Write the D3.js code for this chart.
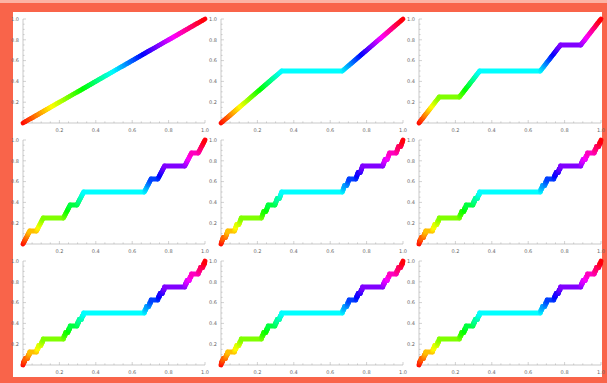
<!DOCTYPE html>
<html>
<head>
<meta charset="utf-8">
<script src="https://cdn.jsdelivr.net/npm/d3@7"></script>
<style>
  html, body { margin: 0; padding: 0; background: #fff; }
  svg { display: block; }
</style>
</head>
<body>
<div id="chart"></div>
<script>
// Staircase vertices, as [x, y] numerators
const stair0 = [[0, 0], [1, 1]];
const stair0Den = [1, 1];

const stair1 = [[0, 0], [1, 1], [2, 1], [3, 2]];
const stair1Den = [3, 2];

const stair2 = [[0, 0], [1, 1], [2, 1], [3, 2], [6, 2], [7, 3], [8, 3], [9, 4]];
const stair2Den = [9, 4];

const stair3 = [[0, 0], [1, 1], [2, 1], [3, 2], [6, 2], [7, 3], [8, 3], [9, 4],
  [18, 4], [19, 5], [20, 5], [21, 6], [24, 6], [25, 7], [26, 7], [27, 8]];
const stair3Den = [27, 8];

const stair4 = [[0, 0], [1, 1], [2, 1], [3, 2], [6, 2], [7, 3], [8, 3], [9, 4],
  [18, 4], [19, 5], [20, 5], [21, 6], [24, 6], [25, 7], [26, 7], [27, 8],
  [54, 8], [55, 9], [56, 9], [57, 10], [60, 10], [61, 11], [62, 11], [63, 12],
  [72, 12], [73, 13], [74, 13], [75, 14], [78, 14], [79, 15], [80, 15], [81, 16]];
const stair4Den = [81, 16];

const stair5 = [[0, 0], [1, 1], [2, 1], [3, 2], [6, 2], [7, 3], [8, 3], [9, 4],
  [18, 4], [19, 5], [20, 5], [21, 6], [24, 6], [25, 7], [26, 7], [27, 8],
  [54, 8], [55, 9], [56, 9], [57, 10], [60, 10], [61, 11], [62, 11], [63, 12],
  [72, 12], [73, 13], [74, 13], [75, 14], [78, 14], [79, 15], [80, 15], [81, 16],
  [162, 16], [163, 17], [164, 17], [165, 18], [168, 18], [169, 19], [170, 19], [171, 20],
  [180, 20], [181, 21], [182, 21], [183, 22], [186, 22], [187, 23], [188, 23], [189, 24],
  [216, 24], [217, 25], [218, 25], [219, 26], [222, 26], [223, 27], [224, 27], [225, 28],
  [234, 28], [235, 29], [236, 29], [237, 30], [240, 30], [241, 31], [242, 31], [243, 32]];
const stair5Den = [243, 32];

// which staircase goes in each of the 9 panels (row by row)
const panelStairs = [stair0, stair1, stair2, stair3, stair4, stair5, stair5, stair5, stair5];
const panelDens = [stair0Den, stair1Den, stair2Den, stair3Den, stair4Den, stair5Den, stair5Den, stair5Den, stair5Den];

const tickValues = [0.2, 0.4, 0.6, 0.8, 1.0];
const minorTickValues = d3.range(1, 21).map(i => i * 0.05);

const W = 607, H = 383;
const svg = d3.select("#chart").append("svg")
  .attr("width", W)
  .attr("height", H);

// orange frame
svg.append("rect").attr("width", W).attr("height", H).attr("fill", "#f9644a");
svg.append("rect").attr("width", W).attr("height", 3).attr("fill", "#fcb3a4");
svg.append("rect")
  .attr("x", 13).attr("y", 12)
  .attr("width", 589).attr("height", 365)
  .attr("fill", "#fff");

const plotW = 182, plotH = 104;
const colStep = 198, rowStep = 121;
const left0 = 23, bottom0 = 123;

const x = d3.scaleLinear().domain([0, 1]).range([0, plotW]);
const y = d3.scaleLinear().domain([0, 1]).range([plotH, 0]);

panelStairs.forEach((stair, i) => {
  const col = i % 3, row = Math.floor(i / 3);
  const den = panelDens[i];
  const g = svg.append("g")
    .attr("transform", `translate(${left0 + col * colStep},${bottom0 + row * rowStep - plotH})`);

  // axes through the origin, ticks pointing inward
  const xAxis = g.append("g").attr("transform", `translate(0,${plotH})`);
  xAxis.append("line").attr("x1", 0).attr("x2", plotW).attr("stroke", "#b3b3b3").attr("stroke-width", 0.7);
  xAxis.selectAll(".minor").data(minorTickValues).enter().append("line")
    .attr("x1", d => x(d)).attr("x2", d => x(d))
    .attr("y1", 0).attr("y2", d => tickValues.some(t => Math.abs(t - d) < 1e-6) ? -3 : -1.6)
    .attr("stroke", "#b3b3b3").attr("stroke-width", 0.6);
  xAxis.selectAll("text").data(tickValues).enter().append("text")
    .attr("x", d => x(d)).attr("y", 8.5)
    .attr("text-anchor", "middle")
    .attr("font-family", "DejaVu Sans, sans-serif")
    .attr("font-size", 5)
    .attr("fill", "#666")
    .text(d => d3.format(".1f")(d));

  const yAxis = g.append("g");
  yAxis.append("line").attr("y1", 0).attr("y2", plotH).attr("stroke", "#b3b3b3").attr("stroke-width", 0.7);
  yAxis.selectAll(".minor").data(minorTickValues).enter().append("line")
    .attr("y1", d => y(d)).attr("y2", d => y(d))
    .attr("x1", 0).attr("x2", d => tickValues.some(t => Math.abs(t - d) < 1e-6) ? 3 : 1.6)
    .attr("stroke", "#b3b3b3").attr("stroke-width", 0.6);
  yAxis.selectAll("text").data(tickValues).enter().append("text")
    .attr("x", -4).attr("y", d => y(d) + 1.8)
    .attr("text-anchor", "end")
    .attr("font-family", "DejaVu Sans, sans-serif")
    .attr("font-size", 5)
    .attr("fill", "#666")
    .text(d => d3.format(".1f")(d));

  // split the staircase into short pieces, coloured by height (hue = y)
  const pts = stair.map(p => [p[0] / den[0], p[1] / den[1]]);
  const pieces = [];
  for (let k = 0; k < pts.length - 1; k++) {
    const a = pts[k], b = pts[k + 1];
    const n = Math.max(1, Math.ceil(Math.abs(y(a[1]) - y(b[1])) / 1.5));
    for (let j = 0; j < n; j++) {
      const t0 = j / n, t1 = (j + 1) / n;
      pieces.push({
        x1: a[0] + (b[0] - a[0]) * t0, y1: a[1] + (b[1] - a[1]) * t0,
        x2: a[0] + (b[0] - a[0]) * t1, y2: a[1] + (b[1] - a[1]) * t1
      });
    }
  }
  g.selectAll(".seg").data(pieces).enter().append("line")
    .attr("class", "seg")
    .attr("x1", d => x(d.x1)).attr("y1", d => y(d.y1))
    .attr("x2", d => x(d.x2)).attr("y2", d => y(d.y2))
    .attr("stroke", d => d3.hsl(((d.y1 + d.y2) / 2) * 360 % 360, 1, 0.5).toString())
    .attr("stroke-width", 4.8)
    .attr("stroke-linecap", "round");
});
</script>
</body>
</html>
